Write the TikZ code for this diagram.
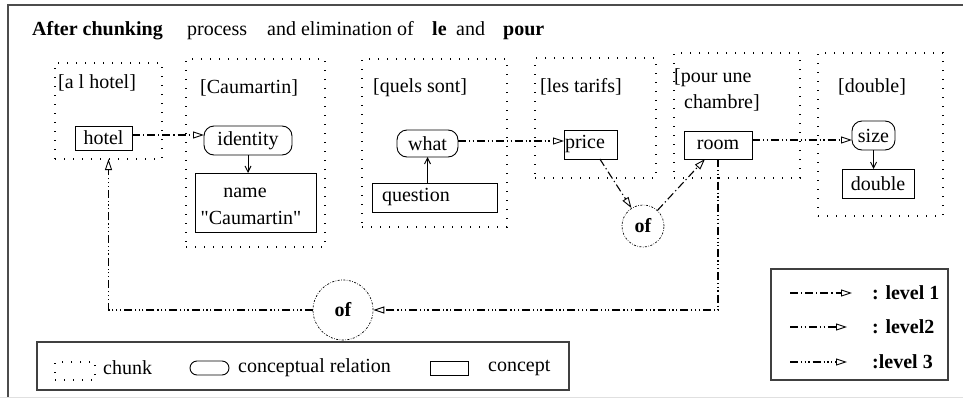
\documentclass[tikz,border=0pt]{standalone}
\usepackage{fontspec}
\setmainfont{Liberation Serif}
\newfontfamily\rawserif{Liberation Serif}
\usetikzlibrary{arrows.meta}
\begin{document}
\begin{tikzpicture}[x=1pt,y=-1pt,font=\fontsize{20}{25}\selectfont]
\tikzset{
  chunk/.style={draw, line width=1.3pt, dash pattern=on 1.3pt off 7.7pt, inner sep=0pt, outer sep=0pt},
  concept/.style={draw, line width=0.9pt, inner sep=0pt, outer sep=0pt},
  relation/.style={draw, line width=0.9pt, rounded corners=10pt, inner sep=0pt, outer sep=0pt},
  ofnode/.style={draw, circle, line width=0.7pt, dash pattern=on 2pt off 1.5pt on 0.6pt off 1.5pt, font=\fontsize{20}{25}\selectfont\bfseries, inner sep=0pt},
  opentip/.style={-{Triangle[open,length=11pt,width=7pt,line width=0.9pt]}},
  lvlone/.style={opentip, line width=1.1pt, dash pattern=on 8pt off 3pt on 1.2pt off 3pt},
  lvltwo/.style={opentip, line width=1.1pt, dash pattern=on 8pt off 3pt on 1.2pt off 2.5pt on 1.2pt off 3pt},
  lvlthree/.style={opentip, line width=1.1pt, dash pattern=on 8pt off 3pt on 1.2pt off 2.5pt on 1.2pt off 2.5pt on 1.2pt off 3pt},
  solidarrow/.style={line width=0.9pt, -{Straight Barb[length=6pt,width=6pt]}},
  lbl/.style={anchor=west, inner sep=0pt},
  ttl/.style={anchor=base west, inner sep=0pt},
  legbox/.style={draw=black!75, line width=1.1pt, inner sep=0pt},
}
\useasboundingbox (0,0) rectangle (963,399);
% frame
\draw[black!70, line width=1.5pt] (963,5) -- (8,5) -- (8,397);
\draw[black!12, line width=1pt] (0,397.5) -- (963,397.5);

% title
\node[ttl, font=\fontsize{20}{25}\selectfont\bfseries] (t1) at (32,35) {After chunking};
\node[ttl] (t2) at (187,35) {process};
\node[ttl] (t3) at (267,35) {and elimination of};
\node[ttl, font=\fontsize{20}{25}\selectfont\bfseries] (t4) at (432,35) {le};
\node[ttl] (t5) at (456,35) {and};
\node[ttl, font=\fontsize{20}{25}\selectfont\bfseries] (t6) at (503,35) {pour};

% chunks
\node[chunk, minimum width=107pt, minimum height=96pt] (c1) at (108.5,111) {};
\node[chunk, minimum width=139pt, minimum height=188pt] (c2) at (255.5,153) {};
\node[chunk, minimum width=145pt, minimum height=168pt] (c3) at (434.5,143) {};
\node[chunk, minimum width=121pt, minimum height=120pt] (c4) at (595.5,118) {};
\node[chunk, minimum width=126pt, minimum height=125pt] (c5) at (737,115.5) {};
\node[chunk, minimum width=125pt, minimum height=163pt] (c6) at (880.5,134.5) {};

\node[lbl] (l1) at (58,83) {[a l hotel]};
\node[lbl] (l2) at (200,88) {[Caumartin]};
\node[lbl] (l3) at (373,88) {[quels sont]};
\node[lbl] (l4) at (540,87) {[les tarifs]};
\node[lbl] (l5a) at (674,78) {[pour une};
\node[lbl] (l5b) at (684,103) {chambre]};
\node[lbl] (l6) at (838,87) {[double]};

% concepts and relations
\node[concept, minimum width=57pt, minimum height=24pt] (hotel) at (103.5,138) {hotel};
\node[relation, minimum width=88pt, minimum height=29pt] (identity) at (248,140.5) {identity};
\node[concept, minimum width=121pt, minimum height=59pt] (name) at (255.5,202.5) {};
\node[inner sep=0pt] (namet) at (245,193) {name};
\node[inner sep=0pt] (caut) at (251,218) {\rawserif"Caumartin"};
\node[relation, minimum width=61pt, minimum height=27pt] (what) at (427.5,143.5) {what};
\node[concept, minimum width=125pt, minimum height=29pt, text width=105pt, align=left] (question) at (434.5,197.5) {question};
\node[concept, minimum width=53pt, minimum height=29pt, text width=51pt, align=left] (price) at (590.5,144.5) {price};
\node[concept, minimum width=68pt, minimum height=28pt] (room) at (718,145) {room};
\node[relation, minimum width=43pt, minimum height=29pt] (size) at (873.5,135.5) {size};
\node[concept, minimum width=72pt, minimum height=29pt] (double) at (878,183.5) {double};
\node[ofnode, minimum size=42pt] (of1) at (643,226) {of};
\node[ofnode, minimum size=60pt] (of2) at (343,310) {of};

% connectors
\draw[lvlone] ([yshift=3pt]hotel.east) -- ([yshift=5.5pt]identity.west);
\draw[solidarrow] (identity.south) -- (identity.south |- name.north);
\draw[solidarrow] (question.north -| what.south) -- (what.south);
\draw[lvltwo] ([yshift=2.5pt]what.east) -- ([yshift=3.5pt]price.west);
\draw[lvlone] (price) -- (of1);
\draw[lvlone] (of1) -- (room);
\draw[lvltwo] ([yshift=5pt]room.east) -- ([yshift=-4.5pt]size.west);
\draw[solidarrow] (size.south) -- (size.south |- double.north);
\draw[lvlthree] (room.south) |- (of2.east);
\draw[lvlthree] (of2.west) -| (c1.south);

% legend bottom
\node[legbox, minimum width=532pt, minimum height=48pt] (legA) at (303,366) {};
\node[chunk, minimum width=40pt, minimum height=18pt] (kchunk) at (75,371) {};
\node[lbl] (kchunkt) at (103,368) {chunk};
\node[relation, rounded corners=7pt, minimum width=39pt, minimum height=14pt] (krel) at (209.5,368) {};
\node[lbl] (krelt) at (238,368) {conceptual relation};
\node[concept, minimum width=38pt, minimum height=14pt] (kcon) at (449,368) {};
\node[lbl] (kcont) at (488,368) {concept};

% legend right
\node[legbox, minimum width=177pt, minimum height=111pt] (legB) at (859.5,324.5) {};
\coordinate (a1) at (790,293); \coordinate (b1) at (852,293);
\coordinate (a2) at (790,327); \coordinate (b2) at (847,327);
\coordinate (a3) at (790,362); \coordinate (b3) at (847,362);
\draw[lvlone] (a1) -- (b1);
\draw[lvltwo] (a2) -- (b2);
\draw[lvlthree] (a3) -- (b3);
\node[lbl, font=\fontsize{20}{25}\selectfont\bfseries] (k1) at (872,293) {: level 1};
\node[lbl, font=\fontsize{20}{25}\selectfont\bfseries] (k2) at (872,327) {: level2};
\node[lbl, font=\fontsize{20}{25}\selectfont\bfseries] (k3) at (872,362) {:level 3};
\end{tikzpicture}
\end{document}
